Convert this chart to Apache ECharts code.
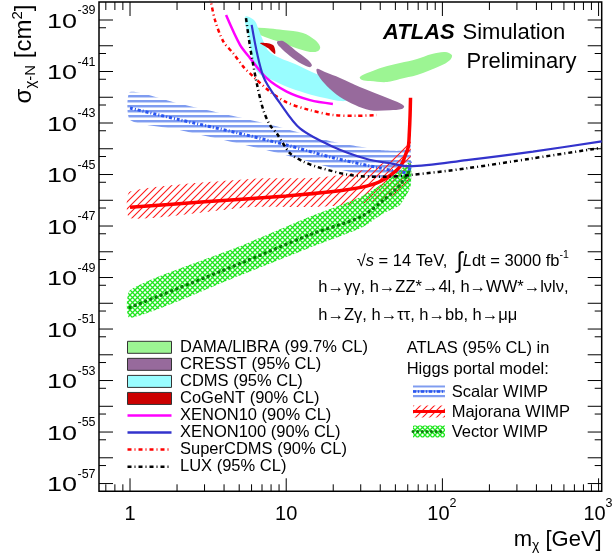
<!DOCTYPE html>
<html>
<head>
<meta charset="utf-8">
<script src="https://cdn.jsdelivr.net/npm/echarts@6/dist/echarts.min.js"></script>
<style>
html, body { margin: 0; padding: 0; background: #fff; }
#chart { width: 614px; height: 559px; }
</style>
</head>
<body>
<div id="chart"></div>
<script>
// masses in GeV, cross sections as log10(sigma / cm^2)
var massRange = [0.633, 1047];
var logSigmaRange = [-57.301, -38.301];   // 5e-58 .. 5e-39

var xMajorTicks = [1, 10, 100, 1000];
var xMinorTicks = [0.7, 0.8, 0.9, 2, 3, 4, 5, 6, 7, 8, 9, 20, 30, 40, 50, 60, 70, 80, 90,
    200, 300, 400, 500, 600, 700, 800, 900];
var xTickLabels = ['1', '10', '10', '10'];
var xTickPowers = ['', '', '2', '3'];
var yMajorTicks = [-57, -56, -55, -54, -53, -52, -51, -50, -49, -48, -47, -46, -45, -44, -43, -42, -41, -40, -39];
var yTickLabels = [-57, -55, -53, -51, -49, -47, -45, -43, -41, -39];

// ATLAS Higgs portal limits
var scalarMass = [1, 2, 5, 10, 20, 40, 53.5, 60, 62.5];
var scalarLog  = [-42.42, -42.85, -43.40, -43.85, -44.35, -44.75, -44.90, -44.93, -44.50];
var scalarHigh = [-41.80, -42.23, -42.78, -43.23, -43.73, -44.05, -44.08, -43.95, -43.78];
var scalarLow  = [-42.88, -43.25, -43.80, -44.25, -44.75, -45.15, -45.25, -45.28, -45.30];

var majMass = [1, 3, 10, 20, 30, 40, 50, 55, 58, 60.5, 61.4, 62.1, 62.5];
var majLog  = [-46.27, -46.06, -45.83, -45.66, -45.50, -45.27, -44.88, -44.59, -44.24, -43.92, -43.39, -42.70, -42.02];
var majBandMass = [1, 6, 14, 25, 40, 53, 60, 62.5];
var majHigh = [-45.66, -45.17, -45.14, -44.98, -44.60, -44.15, -43.70, -43.27];
var majLow  = [-46.70, -46.26, -46.26, -46.18, -46.00, -45.70, -45.35, -45.02];

var vecMass = [1, 5, 14, 30, 42, 53.5, 62.5];
var vecLog  = [-50.16, -48.47, -47.35, -46.64, -45.99, -45.40, -44.80];
var vecHigh = [-49.49, -47.80, -46.65, -45.87, -45.33, -44.84, -44.50];
var vecLow  = [-50.57, -48.93, -47.85, -47.08, -46.50, -46.18, -45.47];

// direct detection limits
var xenon10Mass = [4.12, 5.06, 5.87, 7.5, 10.07, 14.2, 19.9];
var xenon10Log  = [-38.81, -39.97, -40.48, -41.26, -41.78, -42.11, -42.26];

var xenon100Mass = [6.01, 7.14, 9.13, 12.25, 19.9, 32.8, 45, 62, 143, 380, 1047];
var xenon100Log  = [-39.19, -41.20, -42.23, -43.21, -43.92, -44.40, -44.55, -44.68, -44.44, -44.11, -43.71];

var luxMass = [5.53, 5.87, 6.48, 7.14, 7.87, 8.69, 10.6, 12.9, 15.7, 25.6, 41.7, 62.1, 143, 380, 1047];
var luxLog  = [-38.93, -40.04, -41.46, -42.50, -43.08, -43.40, -44.18, -44.50, -44.70, -45.02, -45.09, -45.02, -44.76, -44.37, -43.96];

var superCdmsMass = [3.25, 3.50, 3.96, 4.59, 5.31, 6.16, 7.87, 10.07, 14.2, 20.0, 28.0, 38.0];
var superCdmsLog  = [-38.10, -39.00, -39.84, -40.30, -40.81, -41.20, -41.78, -42.20, -42.50, -42.69, -42.72, -42.69];

// signal regions (closed contours)
var cdmsMass = [5.45, 6.22, 6.60, 7.00, 7.64, 9.13, 11.4, 14.6, 19.1, 24.9, 26.8, 25.6, 22.8, 17.7, 13.2, 9.82, 7.87, 7.00, 6.41, 6.04, 5.69];
var cdmsLog  = [-38.88, -39.00, -39.31, -39.70, -40.17, -40.48, -40.71, -41.02, -41.33, -41.64, -41.87, -42.07, -42.15, -42.03, -41.83, -41.56, -41.29, -41.17, -40.94, -40.36, -39.58];

var dama1Mass = [6.31, 7.87, 9.54, 12.8, 15.3, 16.5, 16.0, 14.2, 11.06, 8.73, 6.80, 6.22];
var dama1Log  = [-39.31, -39.33, -39.39, -39.50, -39.78, -40.05, -40.20, -40.24, -40.05, -39.82, -39.58, -39.43];
var dama2Mass = [29.6, 34.4, 41.7, 53.5, 68.8, 85.8, 104, 115, 112, 96.5, 68.8, 53.5, 44.2, 34.4, 30.6];
var dama2Log  = [-41.21, -41.02, -40.83, -40.67, -40.51, -40.32, -40.24, -40.36, -40.55, -40.79, -41.14, -41.29, -41.41, -41.37, -41.33];

var cresst1Mass = [8.86, 9.54, 11.4, 13.8, 14.6, 14.2, 12.6, 10.57, 9.13, 8.73];
var cresst1Log  = [-39.82, -39.82, -40.17, -40.55, -40.75, -40.83, -40.71, -40.40, -40.05, -39.89];
var cresst2Mass = [15.7, 17.7, 22.1, 29.6, 39.8, 49.7, 56.8, 55.1, 46.2, 34.4, 27.6, 22.1, 18.2, 16.0];
var cresst2Log  = [-40.90, -41.02, -41.25, -41.60, -41.91, -42.15, -42.34, -42.46, -42.50, -42.50, -42.30, -41.99, -41.56, -41.14];

var cogentMass = [6.80, 8.23, 8.48, 7.64];
var cogentLog  = [-39.89, -39.97, -40.32, -40.09];

var FONT = '"Liberation Sans", Arial, Helvetica, sans-serif';
var COL = {
    dama: '#9cf593', cresst: '#976a9c', cdms: '#99fdff', cogent: '#cc0000',
    xenon10: '#ff00ff', xenon100: '#3333cc', supercdms: '#ff0000', lux: '#000000',
    scalar: '#2a55f0', maj: '#ff0000', vec: '#0b7d0b'
};

function makePattern(w, h, draw) {
    var c = document.createElement('canvas');
    c.width = w; c.height = h;
    draw(c.getContext('2d'), w, h);
    return { image: c, repeat: 'repeat' };
}
var scalarFill = makePattern(6, 5, function (g, w, h) {
    g.fillStyle = '#7f9cf0';
    g.fillRect(0, 0, w, 2);
    g.fillStyle = '#c4d2f8';
    g.fillRect(0, 2, w, 1);
});
var majFill = makePattern(7, 7, function (g, w, h) {
    g.strokeStyle = '#ff1a1a'; g.lineWidth = 1.1;
    g.beginPath();
    g.moveTo(-1, h + 1); g.lineTo(w + 1, -1);
    g.moveTo(-1, 1); g.lineTo(1, -1);
    g.moveTo(w - 1, h + 1); g.lineTo(w + 1, h - 1);
    g.stroke();
});
var vecFill = makePattern(5, 5, function (g, w, h) {
    g.strokeStyle = '#1ee61e'; g.lineWidth = 1.3;
    g.beginPath();
    g.moveTo(0, 0); g.lineTo(w, h);
    g.moveTo(w, 0); g.lineTo(0, h);
    g.stroke();
});

function pts(mass, logs) {
    return mass.map(function (m, i) { return [Math.log10(m), logs[i]]; });
}

// 填充区域: 闭合轮廓
function regionSeries(mass, logs, fill, z) {
    return {
        type: 'custom', z: z, silent: true,
        data: [[0, -50]],
        renderItem: function (params, api) {
            var points = mass.map(function (m, i) { return api.coord([Math.log10(m), logs[i]]); });
            return { type: 'polygon', shape: { points: points, smooth: 0.35 }, style: { fill: fill } };
        }
    };
}

// 误差带: 上沿 + 下沿
function bandSeries(mass, high, low, fill, z) {
    return {
        type: 'custom', z: z, silent: true,
        data: [[0, -50]],
        renderItem: function (params, api) {
            var points = [];
            for (var i = 0; i < mass.length; i++) points.push(api.coord([Math.log10(mass[i]), high[i]]));
            for (var j = mass.length - 1; j >= 0; j--) points.push(api.coord([Math.log10(mass[j]), low[j]]));
            return { type: 'polygon', shape: { points: points, smooth: 0.2 }, style: { fill: fill } };
        }
    };
}

function lineSeries(mass, logs, lineStyle, z) {
    return {
        type: 'line', z: z, silent: true, symbol: 'none', smooth: 0.3,
        data: pts(mass, logs),
        lineStyle: lineStyle
    };
}

// 坐标轴刻度和标签
var axisSeries = {
    type: 'custom', z: 20, silent: true, clip: false,
    data: [[0, -50]],
    renderItem: function (params, api) {
        var ch = [];
        var lx0 = Math.log10(massRange[0]), lx1 = Math.log10(massRange[1]);
        var yb = api.coord([lx0, logSigmaRange[0]])[1];
        var yt = api.coord([lx0, logSigmaRange[1]])[1];
        var xl = api.coord([lx0, -50])[0];
        var xr = api.coord([lx1, -50])[0];
        function seg(a, b, c, d) {
            ch.push({ type: 'line', shape: { x1: a, y1: b, x2: c, y2: d }, style: { stroke: '#000', lineWidth: 1 } });
        }
        function txt(x, y, s, size, align, extra) {
            var el = { type: 'text', x: x, y: y, style: {
                text: s, fontSize: size, fontFamily: FONT, fill: '#000',
                align: align, verticalAlign: 'middle', textAlign: align, textVerticalAlign: 'middle' } };
            if (extra) for (var k in extra) el[k] = extra[k];
            ch.push(el);
        }
        xMajorTicks.forEach(function (m, i) {
            var px = api.coord([Math.log10(m), -50])[0];
            seg(px, yb, px, yb - 13); seg(px, yt, px, yt + 14);
            if (xTickPowers[i]) {
                txt(px - 4, yb + 23, xTickLabels[i], 20, 'center');
                txt(px + 7, yb + 12.5, xTickPowers[i], 12.5, 'left');
            } else {
                txt(px, yb + 23, xTickLabels[i], 20, 'center');
            }
        });
        xMinorTicks.forEach(function (m) {
            var px = api.coord([Math.log10(m), -50])[0];
            seg(px, yb, px, yb - 7); seg(px, yt, px, yt + 8);
        });
        yMajorTicks.forEach(function (e) {
            var py = api.coord([lx0, e])[1];
            seg(xl, py, xl + 14, py); seg(xr, py, xr - 14, py);
        });
        yMajorTicks.slice(0, -1).forEach(function (e) {
            var py = api.coord([lx0, e + Math.log10(5)])[1];
            seg(xl, py, xl + 7, py); seg(xr, py, xr - 7, py);
        });
        yTickLabels.forEach(function (e) {
            var py = api.coord([lx0, e])[1];
            txt(77, py + 2, '10', 20, 'right', { scaleX: 1.35 });
            txt(77.5, py - 9, '-' + Math.abs(e), 12.5, 'left');
        });
        return { type: 'group', children: ch };
    }
};

function gText(x, y, s, size, opts) {
    var st = { text: s, fontSize: size, fontFamily: FONT, fill: '#000',
        align: 'left', verticalAlign: 'middle', textAlign: 'left', textVerticalAlign: 'middle' };
    if (opts) for (var k in opts) st[k] = opts[k];
    return { type: 'text', x: x, y: y, z: 100, style: st };
}

var leftLegend = [
    { name: 'DAMA/LIBRA (99.7% CL)', box: COL.dama },
    { name: 'CRESST (95% CL)', box: COL.cresst },
    { name: 'CDMS (95% CL)', box: COL.cdms },
    { name: 'CoGeNT (90% CL)', box: COL.cogent },
    { name: 'XENON10 (90% CL)', line: { stroke: COL.xenon10, lineWidth: 2.5 } },
    { name: 'XENON100 (90% CL)', line: { stroke: COL.xenon100, lineWidth: 2.5 } },
    { name: 'SuperCDMS (90% CL)', line: { stroke: COL.supercdms, lineWidth: 2.5, lineDash: [4, 3, 1, 3] } },
    { name: 'LUX (95% CL)', line: { stroke: COL.lux, lineWidth: 2.5, lineDash: [4, 3, 1, 3] } }
];

var graphics = [];
leftLegend.forEach(function (it, i) {
    var y = 347.3 + i * 17.05;
    if (it.box) {
        graphics.push({ type: 'rect', z: 100, shape: { x: 127.5, y: y - 6, width: 44, height: 12 },
            style: { fill: it.box, stroke: '#333', lineWidth: 1 } });
    } else {
        graphics.push({ type: 'line', z: 100, shape: { x1: 127.5, y1: y, x2: 171.5, y2: y }, style: it.line });
    }
    graphics.push(gText(180, y, it.name, 16.5));
});

// 右侧图例: ATLAS 结果
graphics.push(gText(406.7, 348.3, 'ATLAS (95% CL) in', 16.5));
graphics.push(gText(406.7, 369.5, 'Higgs portal model:', 16.5));
var rightLegend = [
    { name: 'Scalar WIMP', fill: scalarFill, line: { stroke: COL.scalar, lineWidth: 2.5, lineDash: [3, 2, 1, 2] } },
    { name: 'Majorana WIMP', fill: majFill, line: { stroke: COL.maj, lineWidth: 3 } },
    { name: 'Vector WIMP', fill: vecFill, line: { stroke: COL.vec, lineWidth: 3, lineDash: [0.1, 4.5], lineCap: 'round' } }
];
rightLegend.forEach(function (it, i) {
    var y = 391.5 + i * 20;
    graphics.push({ type: 'rect', z: 100, shape: { x: 413, y: y - 6, width: 32, height: 12 }, style: { fill: it.fill } });
    graphics.push({ type: 'line', z: 101, shape: { x1: 413, y1: y, x2: 445, y2: y }, style: it.line });
    graphics.push(gText(451.7, y + 0.5, it.name, 16.5));
});

graphics.push(gText(383, 33, 'ATLAS', 22, { fontWeight: 'bold', fontStyle: 'italic' }));
graphics.push(gText(462.5, 33, 'Simulation', 22));
graphics.push(gText(466.5, 62, 'Preliminary', 22));

graphics.push(gText(356.7, 261.7, '{n|√}{i|s}{n| = 14 TeV,  }{int|∫}{i|L}{n|dt = 3000 fb}{sup|-1}', 16.5, {
    rich: {
        n: { fontSize: 16.5, fontFamily: FONT, lineHeight: 24 },
        i: { fontSize: 16.5, fontFamily: FONT, fontStyle: 'italic', lineHeight: 24 },
        int: { fontSize: 23, fontFamily: FONT, lineHeight: 24 },
        sup: { fontSize: 10.5, fontFamily: FONT, verticalAlign: 'top', lineHeight: 14 }
    }
}));
graphics.push(gText(318.3, 287, 'h→γγ, h→ZZ*→4l, h→WW*→lνlν,', 16.5));
graphics.push(gText(318.3, 315, 'h→Zγ, h→ττ, h→bb, h→μμ', 16.5));

// 坐标轴标题
graphics.push(gText(601.7, 540, '{n|m}{sub|χ}{n| [GeV]}', 22, {
    align: 'right', textAlign: 'right',
    rich: {
        n: { fontSize: 22, fontFamily: FONT, lineHeight: 26 },
        sub: { fontSize: 14, fontFamily: FONT, verticalAlign: 'bottom', lineHeight: 14 }
    }
}));
var yTitle = gText(0, 0, '{n|σ}{sub|χ-N}{n| [cm}{sup|2}{n|]}', 24, {
    align: 'center', textAlign: 'center',
    rich: {
        n: { fontSize: 24, fontFamily: FONT, lineHeight: 28 },
        sub: { fontSize: 15, fontFamily: FONT, verticalAlign: 'bottom', lineHeight: 15 },
        sup: { fontSize: 15, fontFamily: FONT, verticalAlign: 'top', lineHeight: 15 }
    }
});
yTitle.x = 24; yTitle.y = 54; yTitle.rotation = Math.PI / 2;
graphics.push(yTitle);

var chart = echarts.init(document.getElementById('chart'));
chart.setOption({
    animation: false,
    backgroundColor: '#fff',
    grid: { left: 99, right: 12.3, top: 2, bottom: 67.7, show: true, borderColor: '#000', borderWidth: 1.5, backgroundColor: 'transparent' },
    xAxis: { type: 'value', min: Math.log10(massRange[0]), max: Math.log10(massRange[1]), show: false, splitLine: { show: false } },
    yAxis: { type: 'value', min: logSigmaRange[0], max: logSigmaRange[1], show: false, splitLine: { show: false } },
    graphic: { elements: graphics },
    series: [
        bandSeries(scalarMass, scalarHigh, scalarLow, scalarFill, 1),
        bandSeries(majBandMass, majHigh, majLow, majFill, 1),
        bandSeries(vecMass, vecHigh, vecLow, vecFill, 1),
        regionSeries(dama1Mass, dama1Log, COL.dama, 2),
        regionSeries(dama2Mass, dama2Log, COL.dama, 2),
        regionSeries(cdmsMass, cdmsLog, COL.cdms, 2),
        regionSeries(cresst1Mass, cresst1Log, COL.cresst, 2),
        regionSeries(cresst2Mass, cresst2Log, COL.cresst, 2),
        regionSeries(cogentMass, cogentLog, COL.cogent, 2),
        lineSeries(scalarMass, scalarLog, { color: COL.scalar, width: 3, type: [3, 2, 1, 2] }, 4),
        lineSeries(vecMass, vecLog, { color: COL.vec, width: 3.5, type: [0.1, 5.5], cap: 'round' }, 4),
        lineSeries(majMass, majLog, { color: COL.maj, width: 3.5 }, 4),
        lineSeries(xenon10Mass, xenon10Log, { color: COL.xenon10, width: 2.5 }, 4),
        lineSeries(superCdmsMass, superCdmsLog, { color: COL.supercdms, width: 2.5, type: [4, 3, 1, 3] }, 4),
        lineSeries(luxMass, luxLog, { color: COL.lux, width: 2.5, type: [4, 3, 1, 3] }, 4),
        lineSeries(xenon100Mass, xenon100Log, { color: COL.xenon100, width: 2.2 }, 4),
        axisSeries
    ]
});
</script>
</body>
</html>
